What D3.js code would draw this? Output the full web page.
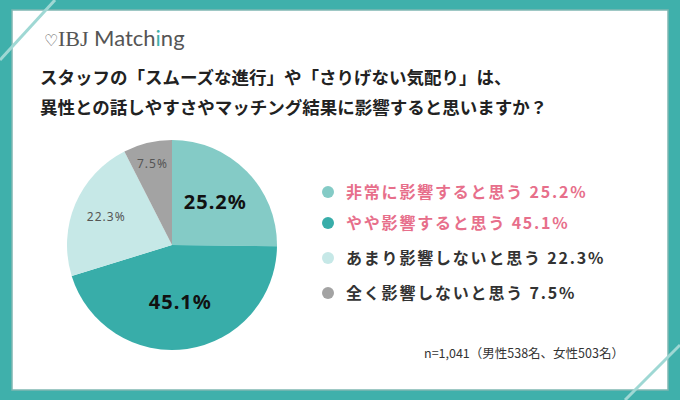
<!DOCTYPE html>
<html><head><meta charset="utf-8">
<script src="https://cdn.jsdelivr.net/npm/d3@7"></script>
<style>body{margin:0;background:#fff}svg{display:block;font-family:"Noto Sans CJK JP","Noto Sans",sans-serif}</style>
</head><body>
<script>
const labels = ["非常に影響すると思う", "やや影響すると思う", "あまり影響しないと思う", "全く影響しないと思う"];
const values = [25.2, 45.1, 22.3, 7.5];
const colors = ["#84cbc6", "#38ada9", "#c6e8e7", "#a3a3a3"];
const legendColors = ["#e76f8b", "#e76f8b", "#333", "#333"];

const svg = d3.select("body").append("svg").attr("width", 680).attr("height", 400);

// frame
svg.append("rect").attr("width", 680).attr("height", 400).attr("fill", "#3fb0ab");
svg.append("rect").attr("x", 12).attr("y", 10).attr("width", 656).attr("height", 380).attr("fill", "#fff")
  .attr("stroke", "#7fb7b2").attr("stroke-width", 1.5);
svg.append("line").attr("x1", 0).attr("y1", 60).attr("x2", 55).attr("y2", 0).attr("stroke", "#9fd8d4").attr("stroke-width", 3);
svg.append("line").attr("x1", 680).attr("y1", 345).attr("x2", 625).attr("y2", 400).attr("stroke", "#9fd8d4").attr("stroke-width", 3);

// logo
const logo = svg.append("text").attr("x", 44).attr("y", 46).attr("font-size", 22).attr("fill", "#555")
  .attr("font-family", "Lato, sans-serif");
logo.append("tspan").text("♡").attr("font-size", 16);
logo.append("tspan").text("IBJ ").attr("font-family", "Liberation Serif, serif");
logo.append("tspan").text("Matc");
logo.append("tspan").text("h");
logo.append("tspan").text("i").attr("fill", "#3fb0ab");
logo.append("tspan").text("ng");

const title = ["スタッフの「スムーズな進行」や「さりげない気配り」は、",
  "異性との話しやすさやマッチング結果に影響すると思いますか？"];
svg.selectAll("text.title").data(title).join("text").attr("class", "title")
  .attr("x", 40).attr("y", (d, i) => 84 + i * 30).attr("font-size", 17.5).attr("font-weight", 700)
  .attr("fill", "#222").text(d => d);

// pie
const cx = 172, cy = 245, r = 105;
const pie = d3.pie().sort(null).value(d => d);
const arc = d3.arc().innerRadius(0).outerRadius(r);
const g = svg.append("g").attr("transform", `translate(${cx},${cy})`);
const arcs = pie(values);
g.selectAll("path").data(arcs).join("path").attr("d", arc).attr("fill", (d, i) => colors[i]);
const lab = [
  { r: 0.58, size: 20, fill: "#111", w: 700 },
  { r: 0.55, size: 20, fill: "#111", w: 700 },
  { r: 0.68, size: 12, fill: "#555", w: 400 },
  { r: 0.8, size: 12, fill: "#555", w: 400 }];
g.selectAll("text").data(arcs).join("text")
  .attr("transform", (d, i) => `translate(${d3.arc().innerRadius(r * lab[i].r).outerRadius(r * lab[i].r).centroid(d)})`)
  .attr("text-anchor", "middle").attr("dy", "0.35em").attr("letter-spacing", 1)
  .attr("font-size", (d, i) => lab[i].size).attr("font-weight", (d, i) => lab[i].w)
  .attr("fill", (d, i) => lab[i].fill).attr("font-family", "Noto Sans, sans-serif")
  .text(d => d.data + "%");

// legend
const ys = [192, 223, 258, 293];
const lg = svg.selectAll("g.leg").data(labels).join("g").attr("class", "leg")
  .attr("transform", (d, i) => `translate(328,${ys[i]})`);
lg.append("circle").attr("r", 6).attr("fill", (d, i) => colors[i]);
lg.append("text").attr("x", 18).attr("dy", "0.35em").attr("font-size", 16).attr("font-weight", 700)
  .attr("letter-spacing", 1.8)
  .attr("fill", (d, i) => legendColors[i]).text((d, i) => `${d} ${values[i]}%`);

svg.append("text").attr("x", 424).attr("y", 358).attr("font-size", 12.5).attr("fill", "#333")
  .text("n=1,041（男性538名、女性503名）");
</script>
</body></html>
